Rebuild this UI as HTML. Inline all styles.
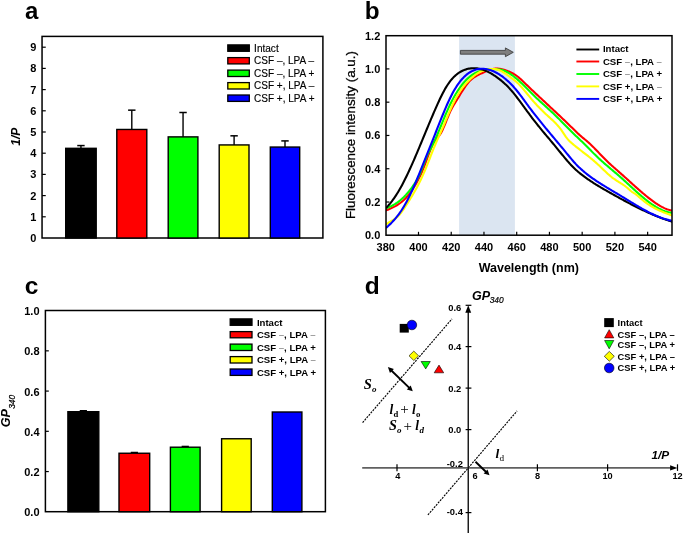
<!DOCTYPE html>
<html><head><meta charset="utf-8"><title>Figure</title>
<style>html,body{margin:0;padding:0;background:#fff;}svg{display:block;will-change:transform;}</style></head>
<body><svg width="685" height="535" viewBox="0 0 685 535">
<rect width="685" height="535" fill="#fff"/>
<text x="24.88" y="18.66" font-family="'Liberation Sans', sans-serif" font-size="24" font-weight="bold" font-style="normal" text-anchor="start" fill="#000" >a</text>
<text x="364.72" y="18.66" font-family="'Liberation Sans', sans-serif" font-size="24.3" font-weight="bold" font-style="normal" text-anchor="start" fill="#000" >b</text>
<text x="24.82" y="294.36" font-family="'Liberation Sans', sans-serif" font-size="24.5" font-weight="bold" font-style="normal" text-anchor="start" fill="#000" >c</text>
<text x="364.77" y="294.36" font-family="'Liberation Sans', sans-serif" font-size="24.5" font-weight="bold" font-style="normal" text-anchor="start" fill="#000" >d</text>
<rect x="42.05" y="36.4" width="280.84999999999997" height="201.6" fill="none" stroke="#000" stroke-width="1.5"/>
<text x="36.40" y="241.94" font-family="'Liberation Sans', sans-serif" font-size="11" font-weight="bold" font-style="normal" text-anchor="end" fill="#000" >0</text>
<line x1="42.05" y1="216.80" x2="45.75" y2="216.80" stroke="#000" stroke-width="1.2" />
<text x="36.40" y="220.74" font-family="'Liberation Sans', sans-serif" font-size="11" font-weight="bold" font-style="normal" text-anchor="end" fill="#000" >1</text>
<line x1="42.05" y1="195.60" x2="45.75" y2="195.60" stroke="#000" stroke-width="1.2" />
<text x="36.40" y="199.54" font-family="'Liberation Sans', sans-serif" font-size="11" font-weight="bold" font-style="normal" text-anchor="end" fill="#000" >2</text>
<line x1="42.05" y1="174.40" x2="45.75" y2="174.40" stroke="#000" stroke-width="1.2" />
<text x="36.40" y="178.34" font-family="'Liberation Sans', sans-serif" font-size="11" font-weight="bold" font-style="normal" text-anchor="end" fill="#000" >3</text>
<line x1="42.05" y1="153.20" x2="45.75" y2="153.20" stroke="#000" stroke-width="1.2" />
<text x="36.40" y="157.14" font-family="'Liberation Sans', sans-serif" font-size="11" font-weight="bold" font-style="normal" text-anchor="end" fill="#000" >4</text>
<line x1="42.05" y1="132.00" x2="45.75" y2="132.00" stroke="#000" stroke-width="1.2" />
<text x="36.40" y="135.94" font-family="'Liberation Sans', sans-serif" font-size="11" font-weight="bold" font-style="normal" text-anchor="end" fill="#000" >5</text>
<line x1="42.05" y1="110.80" x2="45.75" y2="110.80" stroke="#000" stroke-width="1.2" />
<text x="36.40" y="114.74" font-family="'Liberation Sans', sans-serif" font-size="11" font-weight="bold" font-style="normal" text-anchor="end" fill="#000" >6</text>
<line x1="42.05" y1="89.60" x2="45.75" y2="89.60" stroke="#000" stroke-width="1.2" />
<text x="36.40" y="93.54" font-family="'Liberation Sans', sans-serif" font-size="11" font-weight="bold" font-style="normal" text-anchor="end" fill="#000" >7</text>
<line x1="42.05" y1="68.40" x2="45.75" y2="68.40" stroke="#000" stroke-width="1.2" />
<text x="36.40" y="72.34" font-family="'Liberation Sans', sans-serif" font-size="11" font-weight="bold" font-style="normal" text-anchor="end" fill="#000" >8</text>
<line x1="42.05" y1="47.20" x2="45.75" y2="47.20" stroke="#000" stroke-width="1.2" />
<text x="36.40" y="51.14" font-family="'Liberation Sans', sans-serif" font-size="11" font-weight="bold" font-style="normal" text-anchor="end" fill="#000" >9</text>
<text transform="translate(20.30,145.70) rotate(-90)" font-family="'Liberation Sans', sans-serif" font-size="12" font-weight="bold" font-style="italic" >1/P</text>
<line x1="80.95" y1="148.32" x2="80.95" y2="145.57" stroke="#000" stroke-width="1.4" />
<line x1="77.25" y1="145.57" x2="84.65" y2="145.57" stroke="#000" stroke-width="1.5" />
<rect x="65.70" y="148.32" width="30.50" height="89.68" fill="#000000" stroke="#000" stroke-width="1.4"/>
<line x1="131.80" y1="129.46" x2="131.80" y2="110.16" stroke="#000" stroke-width="1.4" />
<line x1="128.10" y1="110.16" x2="135.50" y2="110.16" stroke="#000" stroke-width="1.5" />
<rect x="116.80" y="129.46" width="30.00" height="108.54" fill="#ff0000" stroke="#000" stroke-width="1.4"/>
<line x1="183.05" y1="136.88" x2="183.05" y2="112.50" stroke="#000" stroke-width="1.4" />
<line x1="179.35" y1="112.50" x2="186.75" y2="112.50" stroke="#000" stroke-width="1.5" />
<rect x="168.20" y="136.88" width="29.70" height="101.12" fill="#00ff00" stroke="#000" stroke-width="1.4"/>
<line x1="234.10" y1="144.93" x2="234.10" y2="135.82" stroke="#000" stroke-width="1.4" />
<line x1="230.40" y1="135.82" x2="237.80" y2="135.82" stroke="#000" stroke-width="1.5" />
<rect x="219.20" y="144.93" width="29.80" height="93.07" fill="#ffff00" stroke="#000" stroke-width="1.4"/>
<line x1="285.00" y1="147.05" x2="285.00" y2="140.90" stroke="#000" stroke-width="1.4" />
<line x1="281.30" y1="140.90" x2="288.70" y2="140.90" stroke="#000" stroke-width="1.5" />
<rect x="270.30" y="147.05" width="29.40" height="90.95" fill="#0000ff" stroke="#000" stroke-width="1.4"/>
<rect x="227.8" y="44.90" width="21.5" height="6.40" fill="#000000" stroke="#000" stroke-width="1.3"/>
<text x="254.10" y="51.70" font-family="'Liberation Sans', sans-serif" font-size="10.0" font-weight="normal" font-style="normal" text-anchor="start" fill="#000" textLength="24.6" lengthAdjust="spacingAndGlyphs" stroke="#000" stroke-width="0.15">Intact</text>
<rect x="227.8" y="57.60" width="21.5" height="6.30" fill="#ff0000" stroke="#000" stroke-width="1.3"/>
<text x="254.10" y="64.35" font-family="'Liberation Sans', sans-serif" font-size="10.0" font-weight="normal" font-style="normal" text-anchor="start" fill="#000" stroke="#000" stroke-width="0.15">CSF <tspan fill="#707070">&#8211;</tspan>, LPA <tspan fill="#707070">&#8211;</tspan></text>
<rect x="227.8" y="70.10" width="21.5" height="6.40" fill="#00ff00" stroke="#000" stroke-width="1.3"/>
<text x="254.10" y="76.90" font-family="'Liberation Sans', sans-serif" font-size="10.0" font-weight="normal" font-style="normal" text-anchor="start" fill="#000" stroke="#000" stroke-width="0.15">CSF <tspan fill="#707070">&#8211;</tspan>, LPA +</text>
<rect x="227.8" y="82.60" width="21.5" height="6.40" fill="#ffff00" stroke="#000" stroke-width="1.3"/>
<text x="254.10" y="89.40" font-family="'Liberation Sans', sans-serif" font-size="10.0" font-weight="normal" font-style="normal" text-anchor="start" fill="#000" stroke="#000" stroke-width="0.15">CSF +, LPA <tspan fill="#707070">&#8211;</tspan></text>
<rect x="227.8" y="95.00" width="21.5" height="6.40" fill="#0000ff" stroke="#000" stroke-width="1.3"/>
<text x="254.10" y="101.80" font-family="'Liberation Sans', sans-serif" font-size="10.0" font-weight="normal" font-style="normal" text-anchor="start" fill="#000" stroke="#000" stroke-width="0.15">CSF +, LPA +</text>
<rect x="459.1" y="35.7" width="55.799999999999955" height="199.5" fill="#dbe5f1"/>
<clipPath id="cb"><rect x="386.0" y="35.7" width="286.0" height="199.5"/></clipPath>
<g clip-path="url(#cb)" fill="none" stroke-width="2.1" stroke-linejoin="round">
<path d="M385.90,210.51 L386.90,210.09 L387.90,209.67 L388.90,209.24 L389.90,208.80 L390.90,208.36 L391.90,207.89 L392.90,207.41 L393.90,206.91 L394.90,206.38 L395.90,205.82 L396.90,205.23 L397.90,204.61 L398.90,203.95 L399.90,203.24 L400.90,202.49 L401.90,201.69 L402.90,200.84 L403.90,199.93 L404.90,198.96 L405.90,197.93 L406.90,196.83 L407.90,195.67 L408.90,194.44 L409.90,193.14 L410.90,191.78 L411.90,190.35 L412.90,188.85 L413.90,187.29 L414.90,185.67 L415.90,183.97 L416.90,182.19 L417.90,180.34 L418.90,178.39 L419.90,176.35 L420.90,174.21 L421.90,171.96 L422.90,169.60 L423.90,167.12 L424.90,164.52 L425.90,161.83 L426.90,159.10 L427.90,156.36 L428.90,153.67 L429.90,151.05 L430.90,148.56 L431.90,146.23 L432.90,144.11 L433.90,142.23 L434.90,140.64 L435.90,139.33 L436.90,138.21 L437.90,137.15 L438.90,136.03 L439.90,134.73 L440.90,133.15 L441.90,131.28 L442.90,129.18 L443.90,126.90 L444.90,124.49 L445.90,122.00 L446.90,119.48 L447.90,116.99 L448.90,114.57 L449.90,112.28 L450.90,110.16 L451.90,108.24 L452.90,106.47 L453.90,104.80 L454.90,103.17 L455.90,101.55 L456.90,99.91 L457.90,98.25 L458.90,96.60 L459.90,94.95 L460.90,93.32 L461.90,91.71 L462.90,90.13 L463.90,88.60 L464.90,87.12 L465.90,85.71 L466.90,84.36 L467.90,83.09 L468.90,81.91 L469.90,80.83 L470.90,79.86 L471.90,78.98 L472.90,78.18 L473.90,77.47 L474.90,76.82 L475.90,76.22 L476.90,75.67 L477.90,75.15 L478.90,74.64 L479.90,74.15 L480.90,73.66 L481.90,73.18 L482.90,72.69 L483.90,72.22 L484.90,71.76 L485.90,71.31 L486.90,70.89 L487.90,70.49 L488.90,70.12 L489.90,69.77 L490.90,69.47 L491.90,69.20 L492.90,68.97 L493.90,68.80 L494.90,68.67 L495.90,68.59 L496.90,68.57 L497.90,68.61 L498.90,68.70 L499.90,68.84 L500.90,69.03 L501.90,69.25 L502.90,69.50 L503.90,69.79 L504.90,70.11 L505.90,70.44 L506.90,70.80 L507.90,71.17 L508.90,71.57 L509.90,71.99 L510.90,72.45 L511.90,72.93 L512.90,73.46 L513.90,74.03 L514.90,74.64 L515.90,75.30 L516.90,76.01 L517.90,76.78 L518.90,77.61 L519.90,78.48 L520.90,79.38 L521.90,80.31 L522.90,81.27 L523.90,82.23 L524.90,83.20 L525.90,84.17 L526.90,85.13 L527.90,86.09 L528.90,87.05 L529.90,88.00 L530.90,88.95 L531.90,89.90 L532.90,90.85 L533.90,91.79 L534.90,92.73 L535.90,93.67 L536.90,94.61 L537.90,95.55 L538.90,96.48 L539.90,97.42 L540.90,98.35 L541.90,99.28 L542.90,100.21 L543.90,101.14 L544.90,102.07 L545.90,103.00 L546.90,103.93 L547.90,104.86 L548.90,105.79 L549.90,106.72 L550.90,107.66 L551.90,108.59 L552.90,109.52 L553.90,110.45 L554.90,111.39 L555.90,112.32 L556.90,113.26 L557.90,114.20 L558.90,115.14 L559.90,116.08 L560.90,117.03 L561.90,117.98 L562.90,118.93 L563.90,119.88 L564.90,120.84 L565.90,121.79 L566.90,122.76 L567.90,123.72 L568.90,124.69 L569.90,125.66 L570.90,126.64 L571.90,127.62 L572.90,128.60 L573.90,129.58 L574.90,130.56 L575.90,131.54 L576.90,132.50 L577.90,133.44 L578.90,134.36 L579.90,135.26 L580.90,136.14 L581.90,136.99 L582.90,137.83 L583.90,138.65 L584.90,139.48 L585.90,140.31 L586.90,141.15 L587.90,142.00 L588.90,142.87 L589.90,143.76 L590.90,144.69 L591.90,145.65 L592.90,146.63 L593.90,147.63 L594.90,148.65 L595.90,149.69 L596.90,150.73 L597.90,151.79 L598.90,152.85 L599.90,153.91 L600.90,154.96 L601.90,156.01 L602.90,157.05 L603.90,158.08 L604.90,159.09 L605.90,160.08 L606.90,161.05 L607.90,162.00 L608.90,162.94 L609.90,163.86 L610.90,164.77 L611.90,165.67 L612.90,166.57 L613.90,167.45 L614.90,168.33 L615.90,169.21 L616.90,170.08 L617.90,170.96 L618.90,171.84 L619.90,172.72 L620.90,173.60 L621.90,174.49 L622.90,175.38 L623.90,176.28 L624.90,177.18 L625.90,178.08 L626.90,178.99 L627.90,179.89 L628.90,180.80 L629.90,181.70 L630.90,182.61 L631.90,183.51 L632.90,184.41 L633.90,185.31 L634.90,186.21 L635.90,187.10 L636.90,187.99 L637.90,188.88 L638.90,189.76 L639.90,190.63 L640.90,191.50 L641.90,192.36 L642.90,193.21 L643.90,194.06 L644.90,194.89 L645.90,195.72 L646.90,196.54 L647.90,197.34 L648.90,198.14 L649.90,198.92 L650.90,199.69 L651.90,200.44 L652.90,201.18 L653.90,201.90 L654.90,202.61 L655.90,203.29 L656.90,203.95 L657.90,204.59 L658.90,205.21 L659.90,205.80 L660.90,206.37 L661.90,206.91 L662.90,207.42 L663.90,207.91 L664.90,208.36 L665.90,208.78 L666.90,209.17 L667.90,209.52 L668.90,209.84 L669.90,210.12 L670.90,210.37 L671.90,210.57 L672.50,210.68" stroke="#ff0000"/>
<path d="M385.90,208.23 L386.90,207.90 L387.90,207.54 L388.90,207.15 L389.90,206.73 L390.90,206.27 L391.90,205.78 L392.90,205.25 L393.90,204.69 L394.90,204.10 L395.90,203.46 L396.90,202.79 L397.90,202.08 L398.90,201.33 L399.90,200.54 L400.90,199.70 L401.90,198.83 L402.90,197.91 L403.90,196.95 L404.90,195.94 L405.90,194.89 L406.90,193.79 L407.90,192.64 L408.90,191.45 L409.90,190.20 L410.90,188.91 L411.90,187.56 L412.90,186.17 L413.90,184.72 L414.90,183.19 L415.90,181.58 L416.90,179.85 L417.90,177.98 L418.90,175.94 L419.90,173.74 L420.90,171.39 L421.90,168.92 L422.90,166.34 L423.90,163.69 L424.90,161.04 L425.90,158.47 L426.90,156.06 L427.90,153.87 L428.90,151.88 L429.90,150.03 L430.90,148.21 L431.90,146.35 L432.90,144.38 L433.90,142.31 L434.90,140.16 L435.90,137.92 L436.90,135.62 L437.90,133.26 L438.90,130.86 L439.90,128.43 L440.90,125.99 L441.90,123.53 L442.90,121.08 L443.90,118.65 L444.90,116.24 L445.90,113.88 L446.90,111.57 L447.90,109.32 L448.90,107.14 L449.90,105.04 L450.90,103.00 L451.90,101.03 L452.90,99.13 L453.90,97.30 L454.90,95.53 L455.90,93.83 L456.90,92.19 L457.90,90.63 L458.90,89.12 L459.90,87.68 L460.90,86.30 L461.90,84.99 L462.90,83.73 L463.90,82.54 L464.90,81.41 L465.90,80.33 L466.90,79.32 L467.90,78.36 L468.90,77.47 L469.90,76.63 L470.90,75.84 L471.90,75.11 L472.90,74.44 L473.90,73.82 L474.90,73.26 L475.90,72.74 L476.90,72.27 L477.90,71.84 L478.90,71.46 L479.90,71.12 L480.90,70.81 L481.90,70.54 L482.90,70.30 L483.90,70.09 L484.90,69.91 L485.90,69.75 L486.90,69.62 L487.90,69.50 L488.90,69.41 L489.90,69.32 L490.90,69.26 L491.90,69.20 L492.90,69.17 L493.90,69.15 L494.90,69.16 L495.90,69.19 L496.90,69.25 L497.90,69.35 L498.90,69.47 L499.90,69.63 L500.90,69.83 L501.90,70.07 L502.90,70.35 L503.90,70.68 L504.90,71.06 L505.90,71.48 L506.90,71.96 L507.90,72.49 L508.90,73.06 L509.90,73.67 L510.90,74.33 L511.90,75.02 L512.90,75.75 L513.90,76.51 L514.90,77.31 L515.90,78.13 L516.90,78.98 L517.90,79.86 L518.90,80.76 L519.90,81.68 L520.90,82.62 L521.90,83.58 L522.90,84.55 L523.90,85.54 L524.90,86.53 L525.90,87.53 L526.90,88.53 L527.90,89.54 L528.90,90.55 L529.90,91.56 L530.90,92.57 L531.90,93.56 L532.90,94.56 L533.90,95.54 L534.90,96.51 L535.90,97.46 L536.90,98.41 L537.90,99.35 L538.90,100.28 L539.90,101.20 L540.90,102.11 L541.90,103.02 L542.90,103.93 L543.90,104.84 L544.90,105.74 L545.90,106.64 L546.90,107.55 L547.90,108.45 L548.90,109.36 L549.90,110.28 L550.90,111.20 L551.90,112.12 L552.90,113.06 L553.90,114.00 L554.90,114.96 L555.90,115.92 L556.90,116.90 L557.90,117.88 L558.90,118.88 L559.90,119.88 L560.90,120.89 L561.90,121.90 L562.90,122.91 L563.90,123.93 L564.90,124.95 L565.90,125.97 L566.90,126.99 L567.90,128.00 L568.90,129.02 L569.90,130.03 L570.90,131.03 L571.90,132.02 L572.90,133.01 L573.90,133.99 L574.90,134.96 L575.90,135.91 L576.90,136.86 L577.90,137.81 L578.90,138.75 L579.90,139.69 L580.90,140.64 L581.90,141.60 L582.90,142.56 L583.90,143.54 L584.90,144.54 L585.90,145.54 L586.90,146.54 L587.90,147.56 L588.90,148.57 L589.90,149.59 L590.90,150.61 L591.90,151.62 L592.90,152.63 L593.90,153.63 L594.90,154.62 L595.90,155.60 L596.90,156.57 L597.90,157.53 L598.90,158.47 L599.90,159.39 L600.90,160.30 L601.90,161.20 L602.90,162.09 L603.90,162.97 L604.90,163.84 L605.90,164.71 L606.90,165.57 L607.90,166.42 L608.90,167.27 L609.90,168.11 L610.90,168.95 L611.90,169.79 L612.90,170.64 L613.90,171.48 L614.90,172.33 L615.90,173.17 L616.90,174.03 L617.90,174.89 L618.90,175.75 L619.90,176.63 L620.90,177.51 L621.90,178.40 L622.90,179.30 L623.90,180.20 L624.90,181.11 L625.90,182.02 L626.90,182.94 L627.90,183.86 L628.90,184.78 L629.90,185.71 L630.90,186.63 L631.90,187.55 L632.90,188.47 L633.90,189.38 L634.90,190.30 L635.90,191.20 L636.90,192.10 L637.90,193.00 L638.90,193.88 L639.90,194.76 L640.90,195.63 L641.90,196.49 L642.90,197.34 L643.90,198.17 L644.90,198.99 L645.90,199.80 L646.90,200.59 L647.90,201.36 L648.90,202.12 L649.90,202.86 L650.90,203.59 L651.90,204.29 L652.90,204.97 L653.90,205.63 L654.90,206.26 L655.90,206.88 L656.90,207.46 L657.90,208.03 L658.90,208.56 L659.90,209.07 L660.90,209.55 L661.90,210.01 L662.90,210.43 L663.90,210.82 L664.90,211.18 L665.90,211.50 L666.90,211.80 L667.90,212.05 L668.90,212.27 L669.90,212.46 L670.90,212.61 L671.90,212.71 L672.50,212.76" stroke="#00ff00"/>
<path d="M385.90,224.57 L386.90,223.78 L387.90,223.07 L388.90,222.42 L389.90,221.81 L390.90,221.23 L391.90,220.66 L392.90,220.08 L393.90,219.47 L394.90,218.81 L395.90,218.08 L396.90,217.28 L397.90,216.37 L398.90,215.34 L399.90,214.20 L400.90,212.97 L401.90,211.64 L402.90,210.25 L403.90,208.79 L404.90,207.28 L405.90,205.73 L406.90,204.16 L407.90,202.57 L408.90,200.98 L409.90,199.38 L410.90,197.77 L411.90,196.13 L412.90,194.47 L413.90,192.78 L414.90,191.05 L415.90,189.28 L416.90,187.46 L417.90,185.58 L418.90,183.64 L419.90,181.64 L420.90,179.57 L421.90,177.42 L422.90,175.18 L423.90,172.87 L424.90,170.50 L425.90,168.06 L426.90,165.59 L427.90,163.08 L428.90,160.55 L429.90,158.00 L430.90,155.46 L431.90,152.93 L432.90,150.42 L433.90,147.94 L434.90,145.50 L435.90,143.12 L436.90,140.81 L437.90,138.56 L438.90,136.33 L439.90,134.08 L440.90,131.79 L441.90,129.46 L442.90,127.10 L443.90,124.72 L444.90,122.33 L445.90,119.94 L446.90,117.56 L447.90,115.20 L448.90,112.86 L449.90,110.56 L450.90,108.31 L451.90,106.11 L452.90,103.98 L453.90,101.93 L454.90,99.97 L455.90,98.10 L456.90,96.31 L457.90,94.61 L458.90,92.99 L459.90,91.44 L460.90,89.97 L461.90,88.57 L462.90,87.24 L463.90,85.97 L464.90,84.76 L465.90,83.60 L466.90,82.50 L467.90,81.45 L468.90,80.45 L469.90,79.49 L470.90,78.57 L471.90,77.68 L472.90,76.83 L473.90,76.01 L474.90,75.22 L475.90,74.47 L476.90,73.77 L477.90,73.12 L478.90,72.53 L479.90,72.00 L480.90,71.54 L481.90,71.13 L482.90,70.78 L483.90,70.47 L484.90,70.19 L485.90,69.93 L486.90,69.69 L487.90,69.47 L488.90,69.29 L489.90,69.14 L490.90,69.02 L491.90,68.95 L492.90,68.93 L493.90,68.95 L494.90,69.04 L495.90,69.18 L496.90,69.39 L497.90,69.67 L498.90,70.02 L499.90,70.43 L500.90,70.91 L501.90,71.43 L502.90,72.01 L503.90,72.62 L504.90,73.27 L505.90,73.95 L506.90,74.65 L507.90,75.37 L508.90,76.10 L509.90,76.83 L510.90,77.57 L511.90,78.31 L512.90,79.07 L513.90,79.85 L514.90,80.66 L515.90,81.50 L516.90,82.40 L517.90,83.34 L518.90,84.33 L519.90,85.36 L520.90,86.44 L521.90,87.55 L522.90,88.70 L523.90,89.88 L524.90,91.07 L525.90,92.28 L526.90,93.50 L527.90,94.73 L528.90,95.95 L529.90,97.17 L530.90,98.37 L531.90,99.56 L532.90,100.72 L533.90,101.86 L534.90,102.98 L535.90,104.08 L536.90,105.17 L537.90,106.23 L538.90,107.28 L539.90,108.30 L540.90,109.32 L541.90,110.31 L542.90,111.29 L543.90,112.26 L544.90,113.21 L545.90,114.15 L546.90,115.08 L547.90,115.99 L548.90,116.90 L549.90,117.80 L550.90,118.70 L551.90,119.62 L552.90,120.55 L553.90,121.51 L554.90,122.50 L555.90,123.53 L556.90,124.60 L557.90,125.72 L558.90,126.89 L559.90,128.13 L560.90,129.45 L561.90,130.83 L562.90,132.30 L563.90,133.83 L564.90,135.36 L565.90,136.82 L566.90,138.17 L567.90,139.37 L568.90,140.47 L569.90,141.47 L570.90,142.39 L571.90,143.26 L572.90,144.11 L573.90,144.94 L574.90,145.76 L575.90,146.57 L576.90,147.37 L577.90,148.16 L578.90,148.94 L579.90,149.72 L580.90,150.50 L581.90,151.27 L582.90,152.05 L583.90,152.82 L584.90,153.59 L585.90,154.37 L586.90,155.15 L587.90,155.94 L588.90,156.73 L589.90,157.54 L590.90,158.35 L591.90,159.17 L592.90,160.01 L593.90,160.86 L594.90,161.72 L595.90,162.60 L596.90,163.50 L597.90,164.42 L598.90,165.35 L599.90,166.30 L600.90,167.26 L601.90,168.23 L602.90,169.19 L603.90,170.16 L604.90,171.11 L605.90,172.06 L606.90,172.99 L607.90,173.91 L608.90,174.80 L609.90,175.66 L610.90,176.49 L611.90,177.29 L612.90,178.05 L613.90,178.77 L614.90,179.46 L615.90,180.13 L616.90,180.77 L617.90,181.40 L618.90,182.02 L619.90,182.64 L620.90,183.27 L621.90,183.91 L622.90,184.57 L623.90,185.26 L624.90,185.97 L625.90,186.73 L626.90,187.52 L627.90,188.37 L628.90,189.25 L629.90,190.14 L630.90,190.99 L631.90,191.77 L632.90,192.47 L633.90,193.10 L634.90,193.73 L635.90,194.39 L636.90,195.15 L637.90,195.99 L638.90,196.88 L639.90,197.76 L640.90,198.63 L641.90,199.48 L642.90,200.30 L643.90,201.10 L644.90,201.88 L645.90,202.63 L646.90,203.36 L647.90,204.05 L648.90,204.73 L649.90,205.37 L650.90,206.00 L651.90,206.60 L652.90,207.18 L653.90,207.74 L654.90,208.27 L655.90,208.79 L656.90,209.30 L657.90,209.78 L658.90,210.25 L659.90,210.71 L660.90,211.15 L661.90,211.58 L662.90,212.00 L663.90,212.41 L664.90,212.80 L665.90,213.19 L666.90,213.58 L667.90,213.95 L668.90,214.32 L669.90,214.69 L670.90,215.05 L671.90,215.41 L672.50,215.62" stroke="#ffff00"/>
<path d="M386.00,207.94 L387.00,206.94 L388.00,205.88 L389.00,204.76 L390.00,203.59 L391.00,202.36 L392.00,201.08 L393.00,199.74 L394.00,198.34 L395.00,196.89 L396.00,195.38 L397.00,193.81 L398.00,192.19 L399.00,190.50 L400.00,188.77 L401.00,186.98 L402.00,185.13 L403.00,183.24 L404.00,181.30 L405.00,179.32 L406.00,177.29 L407.00,175.23 L408.00,173.12 L409.00,170.98 L410.00,168.80 L411.00,166.60 L412.00,164.36 L413.00,162.10 L414.00,159.81 L415.00,157.49 L416.00,155.16 L417.00,152.81 L418.00,150.44 L419.00,148.05 L420.00,145.66 L421.00,143.26 L422.00,140.85 L423.00,138.43 L424.00,136.01 L425.00,133.59 L426.00,131.17 L427.00,128.76 L428.00,126.35 L429.00,123.95 L430.00,121.57 L431.00,119.19 L432.00,116.83 L433.00,114.49 L434.00,112.17 L435.00,109.87 L436.00,107.59 L437.00,105.34 L438.00,103.13 L439.00,100.95 L440.00,98.82 L441.00,96.75 L442.00,94.73 L443.00,92.78 L444.00,90.90 L445.00,89.10 L446.00,87.39 L447.00,85.77 L448.00,84.24 L449.00,82.80 L450.00,81.45 L451.00,80.18 L452.00,78.99 L453.00,77.89 L454.00,76.85 L455.00,75.90 L456.00,75.01 L457.00,74.19 L458.00,73.43 L459.00,72.74 L460.00,72.10 L461.00,71.52 L462.00,71.00 L463.00,70.52 L464.00,70.10 L465.00,69.71 L466.00,69.38 L467.00,69.08 L468.00,68.83 L469.00,68.62 L470.00,68.45 L471.00,68.33 L472.00,68.24 L473.00,68.19 L474.00,68.19 L475.00,68.22 L476.00,68.29 L477.00,68.39 L478.00,68.53 L479.00,68.71 L480.00,68.93 L481.00,69.17 L482.00,69.46 L483.00,69.77 L484.00,70.12 L485.00,70.50 L486.00,70.91 L487.00,71.35 L488.00,71.83 L489.00,72.33 L490.00,72.86 L491.00,73.42 L492.00,74.00 L493.00,74.62 L494.00,75.26 L495.00,75.92 L496.00,76.61 L497.00,77.33 L498.00,78.07 L499.00,78.83 L500.00,79.61 L501.00,80.42 L502.00,81.25 L503.00,82.11 L504.00,82.99 L505.00,83.91 L506.00,84.85 L507.00,85.83 L508.00,86.84 L509.00,87.89 L510.00,88.97 L511.00,90.09 L512.00,91.25 L513.00,92.44 L514.00,93.67 L515.00,94.92 L516.00,96.20 L517.00,97.50 L518.00,98.81 L519.00,100.14 L520.00,101.49 L521.00,102.84 L522.00,104.19 L523.00,105.56 L524.00,106.92 L525.00,108.29 L526.00,109.65 L527.00,111.02 L528.00,112.38 L529.00,113.73 L530.00,115.08 L531.00,116.42 L532.00,117.76 L533.00,119.08 L534.00,120.38 L535.00,121.68 L536.00,122.95 L537.00,124.22 L538.00,125.47 L539.00,126.71 L540.00,127.93 L541.00,129.15 L542.00,130.36 L543.00,131.56 L544.00,132.76 L545.00,133.95 L546.00,135.14 L547.00,136.32 L548.00,137.51 L549.00,138.69 L550.00,139.88 L551.00,141.07 L552.00,142.26 L553.00,143.46 L554.00,144.66 L555.00,145.88 L556.00,147.10 L557.00,148.32 L558.00,149.55 L559.00,150.79 L560.00,152.02 L561.00,153.25 L562.00,154.48 L563.00,155.70 L564.00,156.91 L565.00,158.10 L566.00,159.29 L567.00,160.46 L568.00,161.61 L569.00,162.74 L570.00,163.85 L571.00,164.93 L572.00,165.99 L573.00,167.02 L574.00,168.01 L575.00,168.97 L576.00,169.90 L577.00,170.80 L578.00,171.67 L579.00,172.51 L580.00,173.33 L581.00,174.13 L582.00,174.91 L583.00,175.67 L584.00,176.42 L585.00,177.15 L586.00,177.87 L587.00,178.58 L588.00,179.28 L589.00,179.97 L590.00,180.65 L591.00,181.31 L592.00,181.97 L593.00,182.62 L594.00,183.26 L595.00,183.90 L596.00,184.52 L597.00,185.14 L598.00,185.75 L599.00,186.36 L600.00,186.96 L601.00,187.55 L602.00,188.14 L603.00,188.73 L604.00,189.31 L605.00,189.89 L606.00,190.46 L607.00,191.03 L608.00,191.60 L609.00,192.16 L610.00,192.73 L611.00,193.29 L612.00,193.85 L613.00,194.41 L614.00,194.97 L615.00,195.53 L616.00,196.08 L617.00,196.64 L618.00,197.19 L619.00,197.75 L620.00,198.30 L621.00,198.84 L622.00,199.39 L623.00,199.93 L624.00,200.48 L625.00,201.02 L626.00,201.55 L627.00,202.09 L628.00,202.62 L629.00,203.15 L630.00,203.67 L631.00,204.20 L632.00,204.72 L633.00,205.23 L634.00,205.75 L635.00,206.26 L636.00,206.76 L637.00,207.26 L638.00,207.76 L639.00,208.26 L640.00,208.75 L641.00,209.23 L642.00,209.72 L643.00,210.19 L644.00,210.67 L645.00,211.14 L646.00,211.60 L647.00,212.06 L648.00,212.51 L649.00,212.96 L650.00,213.40 L651.00,213.84 L652.00,214.28 L653.00,214.70 L654.00,215.12 L655.00,215.54 L656.00,215.95 L657.00,216.36 L658.00,216.75 L659.00,217.15 L660.00,217.53 L661.00,217.91 L662.00,218.28 L663.00,218.65 L664.00,219.01 L665.00,219.36 L666.00,219.70 L667.00,220.04 L668.00,220.37 L669.00,220.70 L670.00,221.01 L671.00,221.32 L672.00,221.62 L672.50,221.77" stroke="#000000"/>
<path d="M385.90,227.94 L386.90,227.09 L387.90,226.21 L388.90,225.30 L389.90,224.36 L390.90,223.38 L391.90,222.38 L392.90,221.33 L393.90,220.24 L394.90,219.11 L395.90,217.93 L396.90,216.70 L397.90,215.42 L398.90,214.09 L399.90,212.70 L400.90,211.26 L401.90,209.75 L402.90,208.18 L403.90,206.54 L404.90,204.83 L405.90,203.05 L406.90,201.20 L407.90,199.27 L408.90,197.28 L409.90,195.23 L410.90,193.12 L411.90,190.95 L412.90,188.73 L413.90,186.46 L414.90,184.15 L415.90,181.80 L416.90,179.41 L417.90,177.00 L418.90,174.55 L419.90,172.09 L420.90,169.60 L421.90,167.10 L422.90,164.59 L423.90,162.08 L424.90,159.56 L425.90,157.04 L426.90,154.53 L427.90,152.02 L428.90,149.53 L429.90,147.03 L430.90,144.54 L431.90,142.04 L432.90,139.55 L433.90,137.04 L434.90,134.53 L435.90,132.01 L436.90,129.48 L437.90,126.96 L438.90,124.43 L439.90,121.92 L440.90,119.42 L441.90,116.94 L442.90,114.48 L443.90,112.06 L444.90,109.68 L445.90,107.34 L446.90,105.04 L447.90,102.80 L448.90,100.62 L449.90,98.51 L450.90,96.46 L451.90,94.49 L452.90,92.61 L453.90,90.80 L454.90,89.08 L455.90,87.45 L456.90,85.89 L457.90,84.41 L458.90,83.01 L459.90,81.68 L460.90,80.43 L461.90,79.25 L462.90,78.15 L463.90,77.11 L464.90,76.14 L465.90,75.24 L466.90,74.41 L467.90,73.64 L468.90,72.93 L469.90,72.28 L470.90,71.70 L471.90,71.17 L472.90,70.69 L473.90,70.28 L474.90,69.91 L475.90,69.60 L476.90,69.34 L477.90,69.13 L478.90,68.97 L479.90,68.85 L480.90,68.78 L481.90,68.75 L482.90,68.77 L483.90,68.82 L484.90,68.92 L485.90,69.05 L486.90,69.23 L487.90,69.44 L488.90,69.69 L489.90,69.98 L490.90,70.30 L491.90,70.67 L492.90,71.06 L493.90,71.50 L494.90,71.97 L495.90,72.47 L496.90,73.01 L497.90,73.59 L498.90,74.20 L499.90,74.84 L500.90,75.51 L501.90,76.22 L502.90,76.95 L503.90,77.72 L504.90,78.52 L505.90,79.35 L506.90,80.21 L507.90,81.10 L508.90,82.02 L509.90,82.98 L510.90,83.97 L511.90,85.00 L512.90,86.07 L513.90,87.18 L514.90,88.32 L515.90,89.51 L516.90,90.73 L517.90,91.99 L518.90,93.27 L519.90,94.58 L520.90,95.90 L521.90,97.24 L522.90,98.60 L523.90,99.96 L524.90,101.33 L525.90,102.70 L526.90,104.06 L527.90,105.42 L528.90,106.77 L529.90,108.11 L530.90,109.43 L531.90,110.75 L532.90,112.06 L533.90,113.35 L534.90,114.64 L535.90,115.92 L536.90,117.19 L537.90,118.45 L538.90,119.71 L539.90,120.96 L540.90,122.20 L541.90,123.43 L542.90,124.66 L543.90,125.89 L544.90,127.11 L545.90,128.32 L546.90,129.53 L547.90,130.74 L548.90,131.94 L549.90,133.15 L550.90,134.34 L551.90,135.54 L552.90,136.74 L553.90,137.93 L554.90,139.12 L555.90,140.32 L556.90,141.51 L557.90,142.70 L558.90,143.90 L559.90,145.10 L560.90,146.30 L561.90,147.50 L562.90,148.70 L563.90,149.91 L564.90,151.12 L565.90,152.33 L566.90,153.55 L567.90,154.78 L568.90,156.00 L569.90,157.22 L570.90,158.43 L571.90,159.63 L572.90,160.80 L573.90,161.95 L574.90,163.06 L575.90,164.14 L576.90,165.17 L577.90,166.18 L578.90,167.15 L579.90,168.09 L580.90,169.01 L581.90,169.90 L582.90,170.77 L583.90,171.62 L584.90,172.45 L585.90,173.26 L586.90,174.06 L587.90,174.84 L588.90,175.60 L589.90,176.35 L590.90,177.08 L591.90,177.81 L592.90,178.52 L593.90,179.22 L594.90,179.91 L595.90,180.59 L596.90,181.26 L597.90,181.92 L598.90,182.57 L599.90,183.22 L600.90,183.86 L601.90,184.49 L602.90,185.11 L603.90,185.73 L604.90,186.35 L605.90,186.96 L606.90,187.56 L607.90,188.17 L608.90,188.77 L609.90,189.36 L610.90,189.96 L611.90,190.55 L612.90,191.15 L613.90,191.74 L614.90,192.33 L615.90,192.93 L616.90,193.52 L617.90,194.12 L618.90,194.72 L619.90,195.32 L620.90,195.93 L621.90,196.54 L622.90,197.15 L623.90,197.76 L624.90,198.37 L625.90,198.98 L626.90,199.60 L627.90,200.21 L628.90,200.82 L629.90,201.43 L630.90,202.04 L631.90,202.65 L632.90,203.26 L633.90,203.86 L634.90,204.46 L635.90,205.06 L636.90,205.66 L637.90,206.24 L638.90,206.83 L639.90,207.41 L640.90,207.98 L641.90,208.55 L642.90,209.11 L643.90,209.67 L644.90,210.22 L645.90,210.76 L646.90,211.29 L647.90,211.81 L648.90,212.33 L649.90,212.83 L650.90,213.33 L651.90,213.81 L652.90,214.29 L653.90,214.75 L654.90,215.21 L655.90,215.65 L656.90,216.08 L657.90,216.50 L658.90,216.90 L659.90,217.29 L660.90,217.67 L661.90,218.03 L662.90,218.38 L663.90,218.71 L664.90,219.03 L665.90,219.33 L666.90,219.61 L667.90,219.88 L668.90,220.14 L669.90,220.37 L670.90,220.59 L671.90,220.78 L672.50,220.89" stroke="#0000ff"/>
</g>
<path d="M460.4,50.4 L505.4,50.4 L505.4,47.9 L513.3,52.3 L505.4,56.7 L505.4,54.2 L460.4,54.2 Z" fill="#7f7f7f" stroke="#333" stroke-width="0.8"/>
<rect x="386.0" y="35.7" width="286.0" height="199.5" fill="none" stroke="#000" stroke-width="1.5"/>
<line x1="418.50" y1="235.20" x2="418.50" y2="231.80" stroke="#000" stroke-width="1.2" />
<line x1="451.23" y1="235.20" x2="451.23" y2="231.80" stroke="#000" stroke-width="1.2" />
<line x1="483.97" y1="235.20" x2="483.97" y2="231.80" stroke="#000" stroke-width="1.2" />
<line x1="516.70" y1="235.20" x2="516.70" y2="231.80" stroke="#000" stroke-width="1.2" />
<line x1="549.44" y1="235.20" x2="549.44" y2="231.80" stroke="#000" stroke-width="1.2" />
<line x1="582.17" y1="235.20" x2="582.17" y2="231.80" stroke="#000" stroke-width="1.2" />
<line x1="614.90" y1="235.20" x2="614.90" y2="231.80" stroke="#000" stroke-width="1.2" />
<line x1="647.64" y1="235.20" x2="647.64" y2="231.80" stroke="#000" stroke-width="1.2" />
<text x="385.77" y="250.80" font-family="'Liberation Sans', sans-serif" font-size="11" font-weight="bold" font-style="normal" text-anchor="middle" fill="#000" >380</text>
<text x="418.50" y="250.80" font-family="'Liberation Sans', sans-serif" font-size="11" font-weight="bold" font-style="normal" text-anchor="middle" fill="#000" >400</text>
<text x="451.23" y="250.80" font-family="'Liberation Sans', sans-serif" font-size="11" font-weight="bold" font-style="normal" text-anchor="middle" fill="#000" >420</text>
<text x="483.97" y="250.80" font-family="'Liberation Sans', sans-serif" font-size="11" font-weight="bold" font-style="normal" text-anchor="middle" fill="#000" >440</text>
<text x="516.70" y="250.80" font-family="'Liberation Sans', sans-serif" font-size="11" font-weight="bold" font-style="normal" text-anchor="middle" fill="#000" >460</text>
<text x="549.44" y="250.80" font-family="'Liberation Sans', sans-serif" font-size="11" font-weight="bold" font-style="normal" text-anchor="middle" fill="#000" >480</text>
<text x="582.17" y="250.80" font-family="'Liberation Sans', sans-serif" font-size="11" font-weight="bold" font-style="normal" text-anchor="middle" fill="#000" >500</text>
<text x="614.90" y="250.80" font-family="'Liberation Sans', sans-serif" font-size="11" font-weight="bold" font-style="normal" text-anchor="middle" fill="#000" >520</text>
<text x="647.64" y="250.80" font-family="'Liberation Sans', sans-serif" font-size="11" font-weight="bold" font-style="normal" text-anchor="middle" fill="#000" >540</text>
<text x="380.30" y="239.24" font-family="'Liberation Sans', sans-serif" font-size="11" font-weight="bold" font-style="normal" text-anchor="end" fill="#000" >0.0</text>
<line x1="386.00" y1="202.02" x2="389.40" y2="202.02" stroke="#000" stroke-width="1.2" />
<text x="380.30" y="205.96" font-family="'Liberation Sans', sans-serif" font-size="11" font-weight="bold" font-style="normal" text-anchor="end" fill="#000" >0.2</text>
<line x1="386.00" y1="168.74" x2="389.40" y2="168.74" stroke="#000" stroke-width="1.2" />
<text x="380.30" y="172.68" font-family="'Liberation Sans', sans-serif" font-size="11" font-weight="bold" font-style="normal" text-anchor="end" fill="#000" >0.4</text>
<line x1="386.00" y1="135.46" x2="389.40" y2="135.46" stroke="#000" stroke-width="1.2" />
<text x="380.30" y="139.40" font-family="'Liberation Sans', sans-serif" font-size="11" font-weight="bold" font-style="normal" text-anchor="end" fill="#000" >0.6</text>
<line x1="386.00" y1="102.18" x2="389.40" y2="102.18" stroke="#000" stroke-width="1.2" />
<text x="380.30" y="106.12" font-family="'Liberation Sans', sans-serif" font-size="11" font-weight="bold" font-style="normal" text-anchor="end" fill="#000" >0.8</text>
<line x1="386.00" y1="68.90" x2="389.40" y2="68.90" stroke="#000" stroke-width="1.2" />
<text x="380.30" y="72.84" font-family="'Liberation Sans', sans-serif" font-size="11" font-weight="bold" font-style="normal" text-anchor="end" fill="#000" >1.0</text>
<text x="380.30" y="39.56" font-family="'Liberation Sans', sans-serif" font-size="11" font-weight="bold" font-style="normal" text-anchor="end" fill="#000" >1.2</text>
<text x="528.80" y="271.80" font-family="'Liberation Sans', sans-serif" font-size="12.5" font-weight="bold" font-style="normal" text-anchor="middle" fill="#000" >Wavelength (nm)</text>
<text transform="translate(355.4,135.1) rotate(-90)" font-family="'Liberation Sans', sans-serif" font-size="13" font-weight="normal" text-anchor="middle" textLength="168" lengthAdjust="spacingAndGlyphs" stroke="#000" stroke-width="0.25">Fluorescence intensity (a.u.)</text>
<line x1="576.40" y1="49.50" x2="599.20" y2="49.50" stroke="#000000" stroke-width="1.9" />
<text x="602.90" y="52.20" font-family="'Liberation Sans', sans-serif" font-size="9.65" font-weight="bold" font-style="normal" text-anchor="start" fill="#000" >Intact</text>
<line x1="576.40" y1="61.50" x2="599.20" y2="61.50" stroke="#ff0000" stroke-width="1.9" />
<text x="602.90" y="64.90" font-family="'Liberation Sans', sans-serif" font-size="9.65" font-weight="bold" font-style="normal" text-anchor="start" fill="#000" >CSF <tspan fill="#999">&#8211;</tspan>, LPA <tspan fill="#999">&#8211;</tspan></text>
<line x1="576.40" y1="74.00" x2="599.20" y2="74.00" stroke="#00ff00" stroke-width="1.9" />
<text x="602.90" y="77.40" font-family="'Liberation Sans', sans-serif" font-size="9.65" font-weight="bold" font-style="normal" text-anchor="start" fill="#000" >CSF <tspan fill="#999">&#8211;</tspan>, LPA +</text>
<line x1="576.40" y1="86.40" x2="599.20" y2="86.40" stroke="#ffff00" stroke-width="1.9" />
<text x="602.90" y="89.80" font-family="'Liberation Sans', sans-serif" font-size="9.65" font-weight="bold" font-style="normal" text-anchor="start" fill="#000" >CSF +, LPA <tspan fill="#999">&#8211;</tspan></text>
<line x1="576.40" y1="98.90" x2="599.20" y2="98.90" stroke="#0000ff" stroke-width="1.9" />
<text x="602.90" y="102.30" font-family="'Liberation Sans', sans-serif" font-size="9.65" font-weight="bold" font-style="normal" text-anchor="start" fill="#000" >CSF +, LPA +</text>
<rect x="45.4" y="310.5" width="280.0" height="201.2" fill="none" stroke="#000" stroke-width="1.5"/>
<text x="39.50" y="516.24" font-family="'Liberation Sans', sans-serif" font-size="11" font-weight="bold" font-style="normal" text-anchor="end" fill="#000" >0.0</text>
<line x1="45.40" y1="471.56" x2="48.80" y2="471.56" stroke="#000" stroke-width="1.2" />
<text x="39.50" y="476.00" font-family="'Liberation Sans', sans-serif" font-size="11" font-weight="bold" font-style="normal" text-anchor="end" fill="#000" >0.2</text>
<line x1="45.40" y1="431.32" x2="48.80" y2="431.32" stroke="#000" stroke-width="1.2" />
<text x="39.50" y="435.76" font-family="'Liberation Sans', sans-serif" font-size="11" font-weight="bold" font-style="normal" text-anchor="end" fill="#000" >0.4</text>
<line x1="45.40" y1="391.08" x2="48.80" y2="391.08" stroke="#000" stroke-width="1.2" />
<text x="39.50" y="395.52" font-family="'Liberation Sans', sans-serif" font-size="11" font-weight="bold" font-style="normal" text-anchor="end" fill="#000" >0.6</text>
<line x1="45.40" y1="350.84" x2="48.80" y2="350.84" stroke="#000" stroke-width="1.2" />
<text x="39.50" y="355.28" font-family="'Liberation Sans', sans-serif" font-size="11" font-weight="bold" font-style="normal" text-anchor="end" fill="#000" >0.8</text>
<text x="39.50" y="315.04" font-family="'Liberation Sans', sans-serif" font-size="11" font-weight="bold" font-style="normal" text-anchor="end" fill="#000" >1.0</text>
<line x1="79.75" y1="410.70" x2="86.95" y2="410.70" stroke="#000" stroke-width="1.4" />
<rect x="67.90" y="411.70" width="30.90" height="100.00" fill="#000000" stroke="#000" stroke-width="1.4"/>
<line x1="130.75" y1="452.45" x2="137.95" y2="452.45" stroke="#000" stroke-width="1.4" />
<rect x="119.00" y="453.25" width="30.70" height="58.45" fill="#ff0000" stroke="#000" stroke-width="1.4"/>
<line x1="181.65" y1="446.41" x2="188.85" y2="446.41" stroke="#000" stroke-width="1.4" />
<rect x="170.40" y="447.21" width="29.70" height="64.49" fill="#00ff00" stroke="#000" stroke-width="1.4"/>
<rect x="221.60" y="438.76" width="29.60" height="72.94" fill="#ffff00" stroke="#000" stroke-width="1.4"/>
<rect x="272.30" y="412.00" width="29.60" height="99.70" fill="#0000ff" stroke="#000" stroke-width="1.4"/>
<rect x="230.2" y="318.90" width="21.8" height="6.40" fill="#000000" stroke="#000" stroke-width="1.3"/>
<text x="256.90" y="325.55" font-family="'Liberation Sans', sans-serif" font-size="9.6" font-weight="bold" font-style="normal" text-anchor="start" fill="#000" >Intact</text>
<rect x="230.2" y="331.60" width="21.8" height="6.20" fill="#ff0000" stroke="#000" stroke-width="1.3"/>
<text x="256.90" y="338.15" font-family="'Liberation Sans', sans-serif" font-size="9.6" font-weight="bold" font-style="normal" text-anchor="start" fill="#000" >CSF <tspan fill="#999">&#8211;</tspan>, LPA <tspan fill="#999">&#8211;</tspan></text>
<rect x="230.2" y="344.10" width="21.8" height="6.40" fill="#00ff00" stroke="#000" stroke-width="1.3"/>
<text x="256.90" y="350.75" font-family="'Liberation Sans', sans-serif" font-size="9.6" font-weight="bold" font-style="normal" text-anchor="start" fill="#000" >CSF <tspan fill="#999">&#8211;</tspan>, LPA +</text>
<rect x="230.2" y="356.60" width="21.8" height="6.40" fill="#ffff00" stroke="#000" stroke-width="1.3"/>
<text x="256.90" y="363.25" font-family="'Liberation Sans', sans-serif" font-size="9.6" font-weight="bold" font-style="normal" text-anchor="start" fill="#000" >CSF +, LPA <tspan fill="#999">&#8211;</tspan></text>
<rect x="230.2" y="369.00" width="21.8" height="6.40" fill="#0000ff" stroke="#000" stroke-width="1.3"/>
<text x="256.90" y="375.65" font-family="'Liberation Sans', sans-serif" font-size="9.6" font-weight="bold" font-style="normal" text-anchor="start" fill="#000" >CSF +, LPA +</text>
<text transform="translate(10.40,427.30) rotate(-90)" font-family="'Liberation Sans', sans-serif" font-size="12.6" font-weight="bold" font-style="italic" >GP</text>
<text transform="translate(14.50,408.80) rotate(-90)" font-family="'Liberation Sans', sans-serif" font-size="8.4" font-weight="normal" font-style="italic" stroke="#000" stroke-width="0.2">340</text>
<line x1="362.60" y1="422.60" x2="452.00" y2="318.90" stroke="#000" stroke-width="1.15" stroke-dasharray="2.0,1.1"/>
<line x1="427.90" y1="515.00" x2="517.10" y2="410.90" stroke="#000" stroke-width="1.15" stroke-dasharray="2.0,1.1"/>
<line x1="362.20" y1="467.90" x2="672.00" y2="467.90" stroke="#606060" stroke-width="1.6" />
<path d="M670.1,465.2 L677.4,467.9 L670.1,470.6 Z" fill="#000"/>
<line x1="677.50" y1="464.30" x2="677.50" y2="470.90" stroke="#000" stroke-width="1.2" />
<line x1="468.25" y1="533.00" x2="468.25" y2="311.00" stroke="#111" stroke-width="1.4" />
<path d="M465.3,312.8 L468.25,305.2 L471.2,312.8 Z" fill="#000"/>
<line x1="465.60" y1="305.30" x2="471.40" y2="305.30" stroke="#000" stroke-width="1.2" />
<line x1="397.00" y1="464.20" x2="397.00" y2="471.20" stroke="#000" stroke-width="1.2" />
<line x1="537.40" y1="464.20" x2="537.40" y2="471.20" stroke="#000" stroke-width="1.2" />
<line x1="607.60" y1="464.20" x2="607.60" y2="471.20" stroke="#000" stroke-width="1.2" />
<line x1="465.60" y1="346.60" x2="471.40" y2="346.60" stroke="#000" stroke-width="1.2" />
<line x1="465.60" y1="388.10" x2="471.40" y2="388.10" stroke="#000" stroke-width="1.2" />
<line x1="465.60" y1="429.60" x2="471.40" y2="429.60" stroke="#000" stroke-width="1.2" />
<line x1="465.60" y1="512.60" x2="471.40" y2="512.60" stroke="#000" stroke-width="1.2" />
<text x="397.90" y="479.40" font-family="'Liberation Sans', sans-serif" font-size="9.2" font-weight="bold" font-style="normal" text-anchor="middle" fill="#000" >4</text>
<text x="537.50" y="479.40" font-family="'Liberation Sans', sans-serif" font-size="9.2" font-weight="bold" font-style="normal" text-anchor="middle" fill="#000" >8</text>
<text x="607.50" y="479.40" font-family="'Liberation Sans', sans-serif" font-size="9.2" font-weight="bold" font-style="normal" text-anchor="middle" fill="#000" >10</text>
<text x="472.40" y="479.40" font-family="'Liberation Sans', sans-serif" font-size="9.2" font-weight="bold" font-style="normal" text-anchor="start" fill="#000" >6</text>
<text x="672.40" y="479.30" font-family="'Liberation Sans', sans-serif" font-size="9.2" font-weight="bold" font-style="normal" text-anchor="start" fill="#000" >12</text>
<text x="461.30" y="310.87" font-family="'Liberation Sans', sans-serif" font-size="9.4" font-weight="bold" font-style="normal" text-anchor="end" fill="#000" >0.6</text>
<text x="461.30" y="350.27" font-family="'Liberation Sans', sans-serif" font-size="9.4" font-weight="bold" font-style="normal" text-anchor="end" fill="#000" >0.4</text>
<text x="461.30" y="391.97" font-family="'Liberation Sans', sans-serif" font-size="9.4" font-weight="bold" font-style="normal" text-anchor="end" fill="#000" >0.2</text>
<text x="461.30" y="432.97" font-family="'Liberation Sans', sans-serif" font-size="9.4" font-weight="bold" font-style="normal" text-anchor="end" fill="#000" >0.0</text>
<text x="462.90" y="467.07" font-family="'Liberation Sans', sans-serif" font-size="9.4" font-weight="bold" font-style="normal" text-anchor="end" fill="#000" >-0.2</text>
<text x="462.90" y="515.47" font-family="'Liberation Sans', sans-serif" font-size="9.4" font-weight="bold" font-style="normal" text-anchor="end" fill="#000" >-0.4</text>
<text x="651.52" y="458.90" font-family="'Liberation Sans', sans-serif" font-size="11.8" font-weight="bold" font-style="italic" text-anchor="start" fill="#000" >1/P</text>
<text x="472.10" y="300.20" font-family="'Liberation Sans', sans-serif" font-size="12.5" font-weight="bold" font-style="italic" text-anchor="start" fill="#000" >GP</text>
<text x="489.70" y="302.80" font-family="'Liberation Sans', sans-serif" font-size="8.4" font-weight="normal" font-style="italic" text-anchor="start" fill="#000" stroke="#000" stroke-width="0.2">340</text>
<rect x="399.7" y="323.9" width="9.1" height="8.7" fill="#000"/>
<circle cx="411.9" cy="325.0" r="4.8" fill="#0000ff" stroke="#000" stroke-width="0.6"/>
<path d="M413.8,351.1 L418.6,355.8 L413.8,360.5 L409.0,355.8 Z" fill="#ffff00" stroke="#000" stroke-width="0.6"/>
<path d="M421.1,361.5 L430.3,361.5 L425.7,368.9 Z" fill="#00ff00" stroke="#000" stroke-width="0.6"/>
<path d="M434.2,372.8 L443.7,372.8 L439.0,365.1 Z" fill="#ff0000" stroke="#000" stroke-width="0.6"/>
<line x1="391.11" y1="370.22" x2="409.59" y2="388.18" stroke="#000" stroke-width="1.9" />
<path d="M412.80,391.30 L406.83,389.40 L410.74,385.39 Z" fill="#000"/>
<path d="M387.90,367.10 L389.96,373.01 L393.87,369.00 Z" fill="#000"/>
<line x1="475.50" y1="461.80" x2="486.38" y2="472.21" stroke="#000" stroke-width="1.9" />
<path d="M489.50,475.20 L483.66,473.49 L487.54,469.44 Z" fill="#000"/>
<text x="363.80" y="389.20" font-family="'Liberation Serif', serif" font-size="14.5" font-weight="bold" font-style="italic" text-anchor="start" fill="#000" >S</text>
<text x="371.90" y="392.30" font-family="'Liberation Serif', serif" font-size="9.0" font-weight="bold" font-style="italic" text-anchor="start" fill="#000" >o</text>
<text x="389.40" y="413.80" font-family="'Liberation Serif', serif" font-size="13.6" font-weight="bold" font-style="italic" text-anchor="start" fill="#000" >l</text>
<text x="393.40" y="416.80" font-family="'Liberation Serif', serif" font-size="8.6" font-weight="bold" font-style="normal" text-anchor="start" fill="#000" >d</text>
<text x="400.30" y="414.40" font-family="'Liberation Serif', serif" font-size="15" font-weight="normal" font-style="normal" text-anchor="start" fill="#000" >+</text>
<text x="412.00" y="413.80" font-family="'Liberation Serif', serif" font-size="13.6" font-weight="bold" font-style="italic" text-anchor="start" fill="#000" >l</text>
<text x="416.00" y="416.80" font-family="'Liberation Serif', serif" font-size="8.8" font-weight="bold" font-style="normal" text-anchor="start" fill="#000" >o</text>
<text x="389.10" y="429.90" font-family="'Liberation Serif', serif" font-size="14.2" font-weight="bold" font-style="italic" text-anchor="start" fill="#000" >S</text>
<text x="397.00" y="432.90" font-family="'Liberation Serif', serif" font-size="9.0" font-weight="bold" font-style="italic" text-anchor="start" fill="#000" >o</text>
<text x="403.60" y="430.60" font-family="'Liberation Serif', serif" font-size="15" font-weight="normal" font-style="normal" text-anchor="start" fill="#000" >+</text>
<text x="415.30" y="430.00" font-family="'Liberation Serif', serif" font-size="13.6" font-weight="bold" font-style="italic" text-anchor="start" fill="#000" >l</text>
<text x="419.60" y="433.20" font-family="'Liberation Serif', serif" font-size="9.0" font-weight="bold" font-style="italic" text-anchor="start" fill="#000" >d</text>
<text x="495.60" y="457.90" font-family="'Liberation Serif', serif" font-size="13.5" font-weight="bold" font-style="italic" text-anchor="start" fill="#000" >l</text>
<text x="499.58" y="461.31" font-family="'Liberation Serif', serif" font-size="9.2" font-weight="normal" font-style="normal" text-anchor="start" fill="#000" >d</text>
<rect x="604.2" y="318.1" width="9.6" height="9.0" fill="#000"/>
<path d="M604.6,337.9 L613.8,337.9 L609.2,329.7 Z" fill="#ff0000" stroke="#000" stroke-width="0.6"/>
<path d="M604.6,340.5 L613.8,340.5 L609.2,348.8 Z" fill="#00ff00" stroke="#000" stroke-width="0.6"/>
<path d="M609.3,351.4 L614.3,356.3 L609.3,361.2 L604.3,356.3 Z" fill="#ffff00" stroke="#000" stroke-width="0.6"/>
<circle cx="609.2" cy="368.0" r="4.8" fill="#0000ff" stroke="#000" stroke-width="0.6"/>
<text x="617.60" y="326.20" font-family="'Liberation Sans', sans-serif" font-size="9.35" font-weight="bold" font-style="normal" text-anchor="start" fill="#000" >Intact</text>
<text x="617.60" y="337.60" font-family="'Liberation Sans', sans-serif" font-size="9.35" font-weight="bold" font-style="normal" text-anchor="start" fill="#000" >CSF &#8211;, LPA &#8211;</text>
<text x="617.60" y="348.30" font-family="'Liberation Sans', sans-serif" font-size="9.35" font-weight="bold" font-style="normal" text-anchor="start" fill="#000" >CSF &#8211;, LPA +</text>
<text x="617.60" y="359.80" font-family="'Liberation Sans', sans-serif" font-size="9.35" font-weight="bold" font-style="normal" text-anchor="start" fill="#000" >CSF +, LPA &#8211;</text>
<text x="617.60" y="371.30" font-family="'Liberation Sans', sans-serif" font-size="9.35" font-weight="bold" font-style="normal" text-anchor="start" fill="#000" >CSF +, LPA +</text>
</svg></body></html>
